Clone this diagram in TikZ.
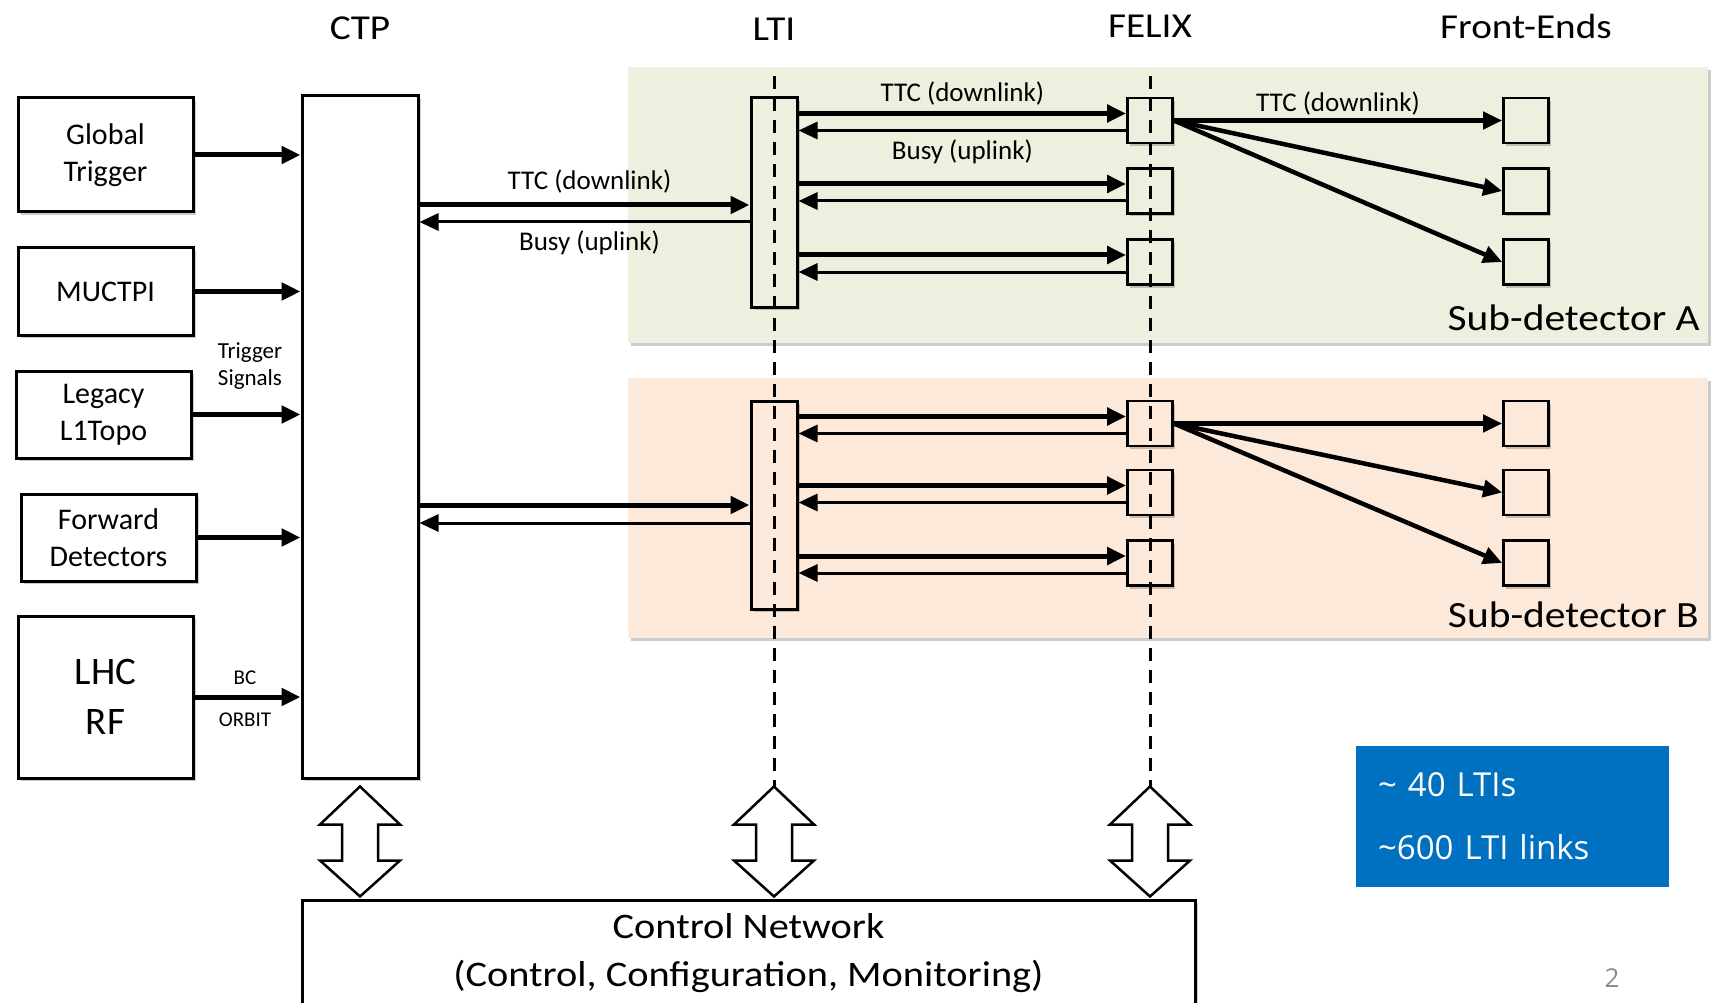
\documentclass[tikz,border=0pt]{standalone}
\usepackage{fontspec}
\setmainfont{Carlito}
\newfontfamily\widefont{Carlito}[FakeStretch=1.12]
\newfontfamily\segfont{Open Sans}
\usepackage{tikz}
\usetikzlibrary{
  arrows.meta,
  positioning,
  calc,
  shadows
}
\definecolor{subA}{HTML}{EBF1DE}
\definecolor{subB}{HTML}{FDE9D9}
\definecolor{infoblue}{HTML}{0070C0}
\newcommand{\fsz}[2]{\fontsize{#1}{#2}\selectfont}

\begin{document}
\begin{tikzpicture}[
  x=1pt, y=-1pt,
  boxshadow/.style={drop shadow={shadow xshift=2.5pt, shadow yshift=-3pt, opacity=0.2, fill=black}},
  pbox/.style={draw, line width=3pt, boxshadow, inner sep=0pt},
  srcbox/.style={pbox, fill=white, minimum width=175pt, minimum height=#1, align=center, font=\fsz{30}{37}},
  ctpbox/.style={pbox, fill=white, minimum width=116pt, minimum height=682pt},
  ltibox/.style={pbox, minimum width=46pt},
  fxbox/.style={pbox, line width=2.6pt, minimum width=45pt, minimum height=45pt},
  region/.style={boxshadow, minimum width=1080pt, inner sep=0pt},
  tip/.style={-{Triangle[length=19pt, width=17pt]}},
  inlink/.style={tip, line width=5pt},
  dlink/.style={tip, line width=5pt},
  ulink/.style={tip, line width=3pt},
  fan/.style={tip, line width=4.5pt},
  dashline/.style={line width=3pt, dash pattern=on 13pt off 9pt},
  dblarrow/.style={draw, line width=2.5pt, fill=white, line join=miter},
  lbl/.style={font=\fsz{27}{30}, inner sep=0pt},
  title/.style={font=\widefont\fsz{35}{40}, anchor=base},
  infobox/.style={fill=infoblue, text=white, minimum width=313pt, minimum height=141pt,
    text width=269pt, inner xsep=22pt, align=left, font=\segfont\fsz{33}{63}}
]
  \useasboundingbox (0,0) rectangle (1711,1003);
  \clip (0,0) rectangle (1711,1003);

  % trigger sources and CTP
  \node[srcbox=114pt] (gt) at (105.5,155) {Global\\Trigger};
  \node[srcbox=87pt] (muctpi) at (105.5,291.5) {MUCTPI};
  \node[srcbox=87pt] (l1topo) at (103.5,414.5) {Legacy\\L1Topo};
  \node[srcbox=87pt] (fwd) at (108.5,537.5) {Forward\\Detectors};
  \node[srcbox=162pt, font=\fsz{39}{50}] (lhc) at (105.5,697) {LHC\\RF};
  \node[ctpbox] (ctp) at (360,437) {};

  \foreach \n in {gt,muctpi,l1topo,fwd,lhc}
    \draw[inlink] (\n.east) -- (\n.east -| ctp.west);

  \node[font=\fsz{23}{27}, align=center] (trigsig) at (250,366) {Trigger\\Signals};
  \node[font=\fsz{21}{24}] (bc) at (245,678) {BC};
  \node[font=\fsz{21}{24}] (orbit) at (245,720) {ORBIT};

  % sub-detector partitions
  \node[region, fill=subA, minimum height=276pt] (regA) at (1168,205) {};
  \node[region, fill=subB, minimum height=260pt] (regB) at (1168,508) {};
  \node[font=\widefont\fsz{37}{44}, anchor=base east] at ([xshift=-5pt,yshift=13pt]regA.south east) {Sub-detector A};
  \node[font=\widefont\fsz{37}{44}, anchor=base east] at ([xshift=-6pt,yshift=11pt]regB.south east) {Sub-detector B};

  \node[ltibox, fill=subA, minimum height=209pt] (ltiA) at (774,202.5) {};
  \node[ltibox, fill=subB, minimum height=208pt] (ltiB) at (774,505) {};
  \foreach \i/\y in {1/120.5,2/191,3/262} {
    \node[fxbox, fill=subA] (fA\i) at (1150,\y) {};
    \node[fxbox, fill=subA] (eA\i) at (1526,\y) {};
  }
  \foreach \i/\y in {1/423.5,2/492.5,3/563} {
    \node[fxbox, fill=subB] (fB\i) at (1150,\y) {};
    \node[fxbox, fill=subB] (eB\i) at (1526,\y) {};
  }

  % CTP <-> LTI
  \draw[dlink] (ctp.east |- 0,205) -- (ltiA.west |- 0,205) node[lbl, midway, above=9pt, xshift=5pt] {TTC (downlink)};
  \draw[ulink] (ltiA.west |- 0,222) -- (ctp.east |- 0,222) node[lbl, midway, below=7.5pt, xshift=5pt] {Busy (uplink)};
  \draw[dlink] (ctp.east |- 0,505) -- (ltiB.west |- 0,505);
  \draw[ulink] (ltiB.west |- 0,523) -- (ctp.east |- 0,523);

  % LTI <-> FELIX -> front-ends
  \foreach \s in {A,B}
    \foreach \i in {1,2,3} {
      \draw[dlink] ([yshift=7pt]f\s\i.west -| lti\s.east) -- ([yshift=7pt]f\s\i.west);
      \draw[ulink] ([yshift=-10pt]f\s\i.west) -- ([yshift=-10pt]f\s\i.west -| lti\s.east);
      \draw[fan] (f\s1.east) -- (e\s\i.west);
    }
  \path ([yshift=7pt]fA1.west -| ltiA.east) -- ([yshift=7pt]fA1.west) node[lbl, midway, above=8pt] {TTC (downlink)};
  \path ([yshift=-10pt]fA1.west) -- ([yshift=-10pt]fA1.west -| ltiA.east) node[lbl, midway, below=9pt] {Busy (uplink)};
  \path (fA1.east) -- (eA1.west) node[lbl, midway, above=5pt] {TTC (downlink)};

  % control network
  \node[draw, line width=3pt, fill=white, boxshadow, minimum width=893pt, minimum height=110pt] (net) at (748.5,955) {};
  \node[font=\widefont\fsz{36}{48}, align=center] (nettext) at (748.5,953.5) {Control Network\\(Control, Configuration, Monitoring)};
  \foreach \n in {ctp,ltiB,fB3}
    \draw[dblarrow] ([yshift=2pt]\n.south |- net.north) -- ++(-40,-36) -- ++(22,0) -- ++(0,-36) -- ++(-22,0)
      -- ++(40,-38) -- ++(40,38) -- ++(-22,0) -- ++(0,36) -- ++(22,0) -- cycle;
  \draw[dashline] (ltiA.north |- 0,76) -- ([yshift=112pt]ltiB.south |- net.north);
  \draw[dashline] (fA1.north |- 0,76) -- ([yshift=112pt]fB3.south |- net.north);

  % column titles
  \node[title] at (ctp.north |- 0,40) {CTP};
  \node[title] at (ltiA.north |- 0,41) {LTI};
  \node[title] at (fA1.north |- 0,38) {FELIX};
  \node[title] at (eA1.north |- 0,39) {Front-Ends};

  \node[infobox] (info) at (1512.5,816.5) {\textasciitilde{} 40 LTIs\\\textasciitilde600 LTI links};
  \node[font=\segfont\fsz{26}{30}, text=black!45] (pgnum) at (1612,978) {2};
\end{tikzpicture}
\end{document}
